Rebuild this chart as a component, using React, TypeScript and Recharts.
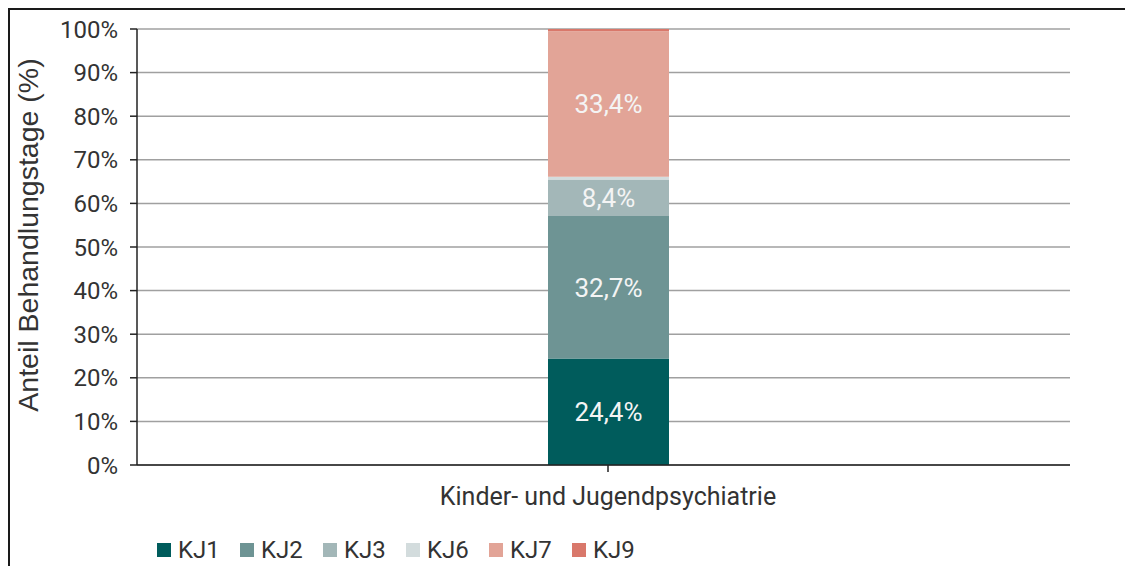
import React from 'react';
import { BarChart, Bar, XAxis, YAxis, CartesianGrid, LabelList } from 'recharts';

const categories = ['Kinder- und Jugendpsychiatrie'];
const seriesNames = ['KJ1', 'KJ2', 'KJ3', 'KJ6', 'KJ7', 'KJ9'];
const kj1 = [24.4];
const kj2 = [32.7];
const kj3 = [8.4];
const kj6 = [0.6];
const kj7 = [33.4];
const kj9 = [0.5];
const yTicks = [0, 10, 20, 30, 40, 50, 60, 70, 80, 90, 100];
const colors = ['#005c5c', '#6e9494', '#a3b7b8', '#d3dcdd', '#e2a497', '#d9786b'];
const showLabel = [true, true, true, false, true, false];

const seriesValues = [kj1, kj2, kj3, kj6, kj7, kj9];
const data = categories.map((c, i) => {
  const row: Record<string, any> = { name: c };
  seriesNames.forEach((s, j) => {
    row[s] = seriesValues[j][i];
  });
  return row;
});

const FONT = 'Roboto, sans-serif';
const fmt = (v: any) => Number(v).toFixed(1).replace('.', ',') + '%';

export default function App() {
  return (
    <div
      style={{
        position: 'relative',
        width: 1125,
        height: 558,
        borderLeft: '2px solid #1a1a1a',
        borderTop: '2px solid #1a1a1a',
        boxSizing: 'border-box',
        overflow: 'hidden',
      }}
    >
      <BarChart
        width={1123}
        height={556}
        data={data}
        margin={{ top: 19, right: 63, bottom: 61, left: 0 }}
        barSize={121}
      >
        <CartesianGrid vertical={false} stroke="#a0a0a0" strokeWidth={1.5} />
        <XAxis
          dataKey="name"
          axisLine={{ stroke: '#222', strokeWidth: 1.5 }}
          tickLine={{ stroke: '#222', strokeWidth: 1.5 }}
          tickSize={7}
          tickMargin={15}
          padding={{ left: 9, right: 0 }}
          height={40}
          tick={{ fill: '#333', fontSize: 25, fontFamily: FONT }}
        />
        <YAxis
          width={127}
          domain={[0, 100]}
          ticks={yTicks}
          interval={0}
          tickFormatter={(v: number) => v + '%'}
          axisLine={{ stroke: '#222', strokeWidth: 1.5 }}
          tickLine={{ stroke: '#222', strokeWidth: 1.5 }}
          tickSize={7}
          tickMargin={12}
          tick={{ fill: '#333', fontSize: 24, fontFamily: FONT }}
          label={{
            value: 'Anteil Behandlungstage (%)',
            angle: -90,
            position: 'insideLeft',
            offset: 0,
            dx: 18,
            dy: -12,
            style: { textAnchor: 'middle', fill: '#333', fontSize: 28.5, fontFamily: '"Liberation Sans", Arial, sans-serif' },
          }}
        />
        {seriesNames.map((s, i) => (
          <Bar key={s} dataKey={s} stackId="a" fill={colors[i]} isAnimationActive={false}>
            {showLabel[i] && (
              <LabelList
                dataKey={s}
                position="center"
                formatter={fmt}
                fill="#f4f4f4"
                style={{ fontSize: 26, fontFamily: FONT }}
              />
            )}
          </Bar>
        ))}
      </BarChart>
      <div
        style={{
          position: 'absolute',
          left: 147,
          top: 526,
          display: 'flex',
          alignItems: 'center',
          fontFamily: FONT,
          fontSize: 24,
          color: '#333',
        }}
      >
        {seriesNames.map((s, i) => (
          <div key={s} style={{ display: 'flex', alignItems: 'center', width: 83 }}>
            <span style={{ display: 'inline-block', width: 14, height: 14, background: colors[i], marginRight: 7 }} />
            <span>{s}</span>
          </div>
        ))}
      </div>
    </div>
  );
}
